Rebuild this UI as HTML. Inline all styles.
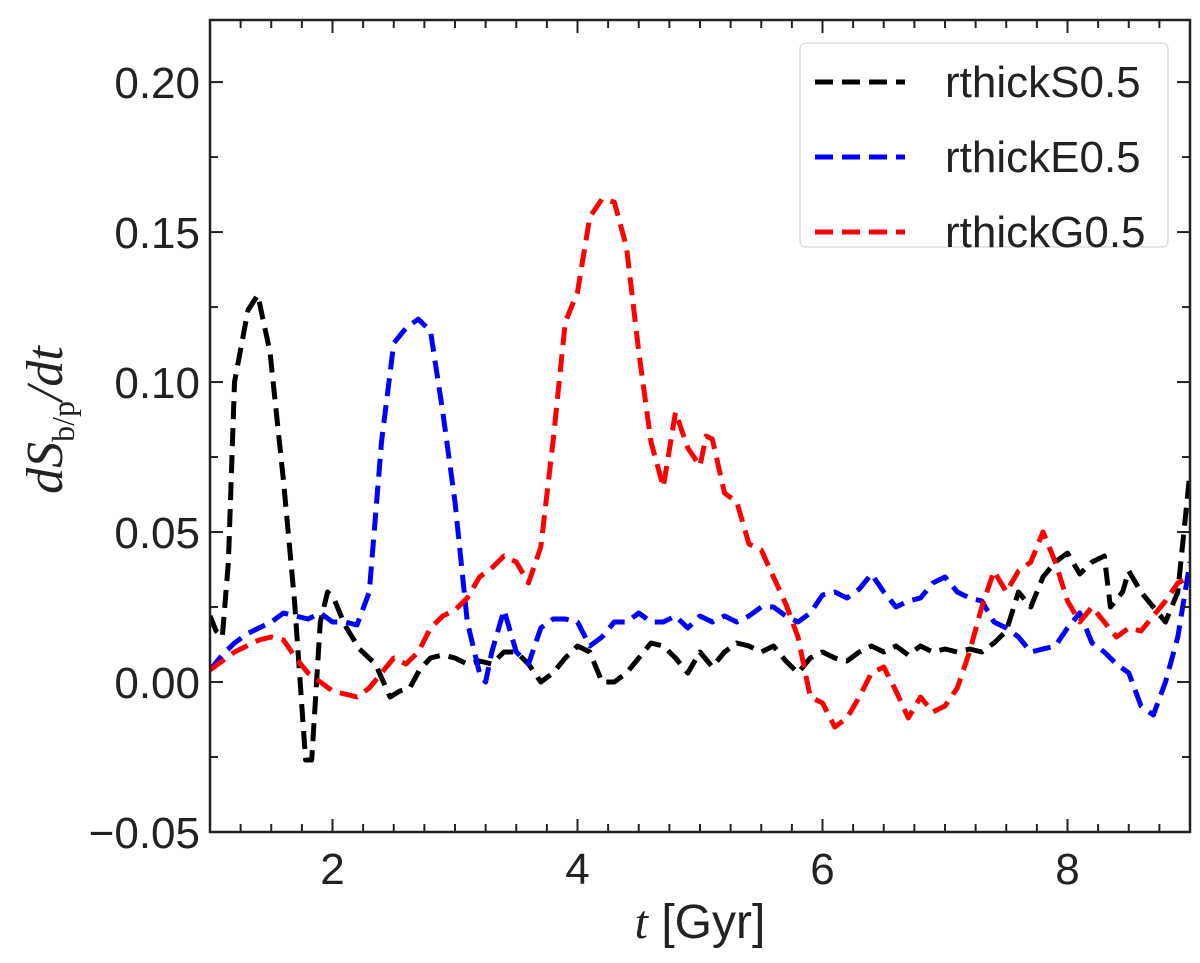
<!DOCTYPE html>
<html><head><meta charset="utf-8"><style>
html,body{margin:0;padding:0;background:#fff;}
svg text{font-family:"Liberation Sans",sans-serif;fill:#222;}
</style></head><body>
<svg id="chart" width="1200" height="958" xmlns="http://www.w3.org/2000/svg">
<g id="plot"></g>
<g id="axes"></g>
<text transform="translate(62,420) rotate(-90)" text-anchor="middle" font-size="52" font-style="italic" style="font-family:'Liberation Serif',serif">dS<tspan font-size="32" dy="12" font-style="normal">b/p</tspan><tspan dy="-12">/dt</tspan></text>
<text x="700" y="938" text-anchor="middle" font-size="48"><tspan font-style="italic" style="font-family:'Liberation Serif',serif">t</tspan> [Gyr]</text>
<g>
<rect x="800" y="43" width="368" height="204" rx="6" fill="#fff" stroke="#ddd" stroke-width="1.5"/>
<line x1="815" x2="905" y1="82" y2="82" stroke="#000" stroke-width="5" stroke-dasharray="18,9"/>
<text x="945" y="97" font-size="44">rthickS0.5</text>
<line x1="815" x2="905" y1="157" y2="157" stroke="#00f" stroke-width="5" stroke-dasharray="18,9"/>
<text x="945" y="172" font-size="44">rthickE0.5</text>
<line x1="815" x2="905" y1="232" y2="232" stroke="#f00" stroke-width="5" stroke-dasharray="18,9"/>
<text x="945" y="247" font-size="44">rthickG0.5</text>
</g>
</svg>
<script>
const tS=[1.0,1.05,1.1,1.15,1.2,1.31,1.39,1.49,1.6,1.69,1.78,1.83,1.9,1.96,2.02,2.1,2.22,2.35,2.47,2.55,2.63,2.71,2.8,2.9,3.0,3.1,3.2,3.3,3.4,3.5,3.6,3.7,3.8,3.9,4.0,4.1,4.2,4.3,4.4,4.5,4.6,4.7,4.8,4.9,5.0,5.1,5.2,5.3,5.4,5.5,5.6,5.7,5.8,5.9,6.0,6.1,6.2,6.3,6.4,6.5,6.6,6.7,6.8,6.9,7.0,7.1,7.2,7.3,7.4,7.5,7.6,7.7,7.8,7.9,8.0,8.1,8.2,8.3,8.35,8.45,8.5,8.6,8.7,8.8,8.9,9.0];
const vS=[0.022,0.017,0.015,0.04,0.10,0.124,0.129,0.11,0.067,0.027,-0.026,-0.026,0.02,0.03,0.027,0.019,0.011,0.006,-0.005,-0.003,-0.002,0.004,0.008,0.009,0.008,0.006,0.007,0.006,0.01,0.01,0.006,0.0,0.003,0.008,0.012,0.01,0.0,0.0,0.003,0.008,0.013,0.012,0.008,0.003,0.01,0.005,0.01,0.013,0.012,0.01,0.012,0.007,0.003,0.008,0.01,0.008,0.007,0.01,0.012,0.01,0.012,0.009,0.012,0.01,0.011,0.01,0.011,0.01,0.013,0.017,0.03,0.025,0.035,0.04,0.043,0.036,0.04,0.042,0.025,0.03,0.037,0.03,0.025,0.02,0.03,0.07];
const tE=[1.0,1.1,1.2,1.3,1.4,1.5,1.6,1.7,1.8,1.9,2.0,2.1,2.2,2.3,2.4,2.5,2.6,2.7,2.8,2.9,3.0,3.1,3.2,3.25,3.3,3.4,3.5,3.6,3.7,3.8,3.9,4.0,4.1,4.2,4.3,4.4,4.5,4.6,4.7,4.8,4.9,5.0,5.1,5.2,5.3,5.4,5.5,5.6,5.7,5.8,5.9,6.0,6.1,6.2,6.3,6.4,6.5,6.6,6.7,6.8,6.9,7.0,7.1,7.2,7.3,7.4,7.5,7.6,7.7,7.8,7.9,8.0,8.1,8.2,8.3,8.4,8.5,8.6,8.7,8.8,8.9,9.0];
const vE=[0.004,0.009,0.013,0.016,0.018,0.02,0.023,0.022,0.021,0.023,0.02,0.02,0.019,0.03,0.08,0.113,0.118,0.121,0.117,0.09,0.06,0.02,0.003,0.0,0.01,0.024,0.01,0.006,0.018,0.021,0.021,0.02,0.012,0.015,0.02,0.02,0.023,0.02,0.02,0.022,0.018,0.022,0.02,0.022,0.02,0.022,0.025,0.025,0.022,0.02,0.023,0.029,0.03,0.028,0.031,0.036,0.03,0.025,0.027,0.028,0.033,0.035,0.03,0.028,0.027,0.02,0.018,0.015,0.01,0.011,0.012,0.018,0.023,0.013,0.01,0.006,0.003,-0.008,-0.011,0.0,0.015,0.04];
const tG=[1.0,1.1,1.2,1.3,1.4,1.5,1.6,1.7,1.8,1.9,2.0,2.1,2.2,2.3,2.4,2.5,2.6,2.7,2.8,2.9,3.0,3.1,3.2,3.3,3.4,3.5,3.6,3.7,3.8,3.9,4.0,4.1,4.2,4.3,4.4,4.5,4.6,4.7,4.8,4.9,5.0,5.05,5.1,5.2,5.3,5.4,5.5,5.6,5.7,5.8,5.9,6.0,6.1,6.2,6.3,6.4,6.5,6.6,6.7,6.8,6.9,7.0,7.1,7.2,7.3,7.4,7.5,7.6,7.7,7.8,7.9,8.0,8.1,8.2,8.3,8.4,8.5,8.6,8.7,8.8,8.9,9.0];
const vG=[0.004,0.007,0.01,0.012,0.014,0.015,0.014,0.008,0.003,0.0,-0.003,-0.004,-0.005,-0.002,0.003,0.008,0.006,0.01,0.018,0.022,0.024,0.028,0.035,0.038,0.042,0.04,0.033,0.045,0.08,0.12,0.13,0.155,0.161,0.16,0.145,0.11,0.08,0.065,0.09,0.078,0.072,0.082,0.081,0.063,0.06,0.046,0.044,0.035,0.026,0.015,-0.005,-0.007,-0.015,-0.012,-0.005,0.003,0.005,-0.003,-0.012,-0.005,-0.01,-0.008,-0.002,0.01,0.025,0.037,0.03,0.037,0.04,0.05,0.04,0.027,0.02,0.025,0.02,0.015,0.018,0.017,0.022,0.027,0.033,0.035];
const xTicks=[2,4,6,8];
const yTicks=[-0.05,0,0.05,0.10,0.15,0.20];
const yTickLabels=["\u22120.05","0.00","0.05","0.10","0.15","0.20"];
const X0=210,X1=1190,Y0=832,Y1=20,xmin=1,xmax=9,ymin=-0.05,ymax=0.2207;
const sx=v=>X0+(v-xmin)/(xmax-xmin)*(X1-X0);
const sy=v=>Y0-(v-ymin)/(ymax-ymin)*(Y0-Y1);
const NS='http://www.w3.org/2000/svg';
const plot=document.getElementById('plot'),axes=document.getElementById('axes');
function mk(tag,parent,attrs){const e=document.createElementNS(NS,tag);for(const k in attrs)e.setAttribute(k,attrs[k]);parent.appendChild(e);return e;}
const defs=mk('defs',plot,{});const cp=mk('clipPath',defs,{id:'clip'});mk('rect',cp,{x:X0,y:Y1,width:X1-X0,height:Y0-Y1});
function series(t,v,color,name){
  const d=t.map((x,i)=>(i?'L':'M')+sx(x).toFixed(1)+','+sy(v[i]).toFixed(1)).join('');
  const p=mk('path',plot,{d:d,fill:'none',stroke:color,'stroke-width':5,'stroke-dasharray':'18,9','stroke-linejoin':'round','clip-path':'url(#clip)'});
  
  
}
series(tS,vS,'#000','line-rthicks0.5');
series(tE,vE,'#00f','line-rthicke0.5');
series(tG,vG,'#f00','line-rthickg0.5');
const frame=mk('rect',axes,{x:X0,y:Y1,width:X1-X0,height:Y0-Y1,fill:'none',stroke:'#222','stroke-width':2.5});


for(let m=1;m<=9.001;m+=0.25){const x=sx(m);const major=Math.abs(m-Math.round(m))<1e-6&&Math.round(m)%2===0;const L=major?13:8;
  mk('line',axes,{x1:x,x2:x,y1:Y0,y2:Y0-L,stroke:'#222','stroke-width':2});
  mk('line',axes,{x1:x,x2:x,y1:Y1,y2:Y1+L,stroke:'#222','stroke-width':2});}
for(let m=-0.05;m<=0.2207;m+=0.025){const y=sy(m);const major=Math.abs(m/0.05-Math.round(m/0.05))<1e-6;const L=major?13:8;
  mk('line',axes,{x1:X0,x2:X0+L,y1:y,y2:y,stroke:'#222','stroke-width':2});
  mk('line',axes,{x1:X1,x2:X1-L,y1:y,y2:y,stroke:'#222','stroke-width':2});}
xTicks.forEach(v=>{const t=mk('text',axes,{x:sx(v),y:Y0+52,'text-anchor':'middle','font-size':44});t.textContent=v;
  
  });
yTicks.forEach((v,i)=>{const t=mk('text',axes,{x:X0-10,y:sy(v)+16,'text-anchor':'end','font-size':44});t.textContent=yTickLabels[i];
  
  });
</script>
</body></html>
